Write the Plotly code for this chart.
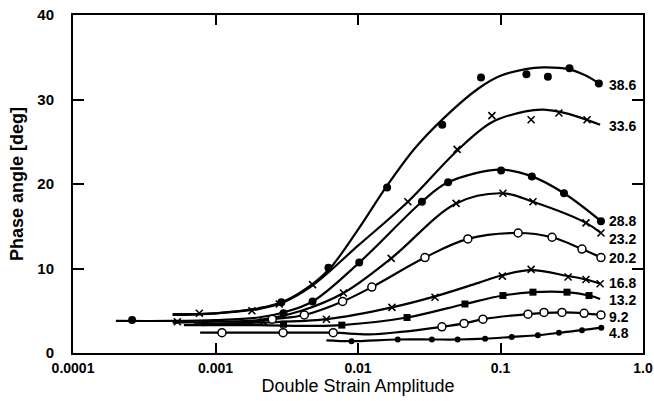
import plotly.graph_objects as go
import math

# ---- data ----
x_tick_vals = [0.0001, 0.001, 0.01, 0.1, 1.0]
x_tick_text = ["0.0001", "0.001", "0.01", "0.1", "1.0"]
y_tick_vals = [0, 10, 20, 30, 40]

labels = ["38.6", "33.6", "28.8", "23.2", "20.2", "16.8", "13.2", "9.2", "4.8"]
label_y = [31.7, 26.9, 15.6, 13.5, 11.2, 8.3, 6.3, 4.3, 2.4]

# 38.6 (filled circles)
c386_x = [0.0005, 0.001, 0.002, 0.003, 0.005, 0.0065, 0.01, 0.016, 0.025, 0.04, 0.07, 0.1, 0.15, 0.2, 0.3, 0.4, 0.5]
c386_y = [4.5, 4.7, 5.3, 6.1, 8.4, 10.2, 14.6, 19.8, 24.2, 27.8, 31.3, 32.8, 33.6, 33.8, 33.6, 32.8, 31.8]
m386_x = [0.0029, 0.0062, 0.016, 0.039, 0.073, 0.152, 0.215, 0.305, 0.49]
m386_y = [6.0, 10.1, 19.6, 27.0, 32.6, 33.0, 32.7, 33.7, 31.9]

# 33.6 (crosses)
c336_x = [0.0005, 0.001, 0.002, 0.003, 0.0048, 0.01, 0.0224, 0.05, 0.087, 0.15, 0.2, 0.3, 0.5]
c336_y = [4.6, 4.7, 5.2, 6.0, 8.0, 12.7, 17.9, 24.0, 27.3, 28.6, 28.8, 28.3, 27.0]
m336_x = [0.00077, 0.0018, 0.0028, 0.0048, 0.0224, 0.0496, 0.087, 0.164, 0.257, 0.405]
m336_y = [4.7, 5.0, 5.8, 8.1, 17.9, 24.1, 28.1, 27.6, 28.4, 27.6]

# 28.8 (filled circles)
c288_x = [0.0002, 0.0005, 0.001, 0.002, 0.003, 0.0048, 0.0102, 0.0281, 0.0429, 0.1, 0.166, 0.279, 0.507]
c288_y = [3.8, 3.8, 3.9, 4.2, 4.8, 6.1, 10.7, 17.9, 20.2, 21.7, 20.9, 18.9, 15.6]
m288_x = [0.00026, 0.003, 0.0048, 0.0102, 0.0281, 0.0429, 0.101, 0.166, 0.279, 0.507]
m288_y = [3.9, 4.7, 6.1, 10.7, 17.9, 20.2, 21.6, 20.9, 18.9, 15.6]

# 23.2 (crosses)
c232_x = [0.0005, 0.001, 0.002, 0.004, 0.0079, 0.0171, 0.0488, 0.104, 0.169, 0.398, 0.507]
c232_y = [3.6, 3.7, 3.9, 5.0, 7.1, 11.2, 17.7, 18.9, 17.9, 15.4, 14.2]
m232_x = [0.00054, 0.0079, 0.0171, 0.0488, 0.104, 0.169, 0.398, 0.507]
m232_y = [3.7, 7.1, 11.2, 17.7, 18.9, 17.9, 15.4, 14.2]

# 20.2 (open circles)
c202_x = [0.0008, 0.0015, 0.0025, 0.0042, 0.0078, 0.0125, 0.0295, 0.059, 0.133, 0.23, 0.373, 0.507]
c202_y = [3.3, 3.5, 4.0, 4.5, 6.1, 7.8, 11.3, 13.5, 14.2, 13.7, 12.3, 11.3]
m202_x = [0.0025, 0.0042, 0.0078, 0.0125, 0.0295, 0.059, 0.133, 0.23, 0.373, 0.507]
m202_y = [4.0, 4.5, 6.1, 7.8, 11.3, 13.5, 14.2, 13.7, 12.3, 11.3]

# 16.8 (crosses)
c168_x = [0.0007, 0.002, 0.006, 0.0173, 0.0347, 0.07, 0.103, 0.164, 0.3, 0.4, 0.5]
c168_y = [3.4, 3.6, 4.0, 5.4, 6.7, 8.3, 9.2, 9.8, 9.1, 8.7, 8.2]
m168_x = [0.00217, 0.006, 0.0173, 0.0347, 0.103, 0.164, 0.298, 0.398, 0.5]
m168_y = [3.7, 4.0, 5.4, 6.6, 9.1, 9.9, 9.0, 8.7, 8.2]

# 13.2 (filled squares)
c132_x = [0.0006, 0.002, 0.005, 0.0077, 0.0221, 0.0563, 0.104, 0.169, 0.293, 0.418, 0.5]
c132_y = [3.3, 3.3, 3.2, 3.3, 4.2, 5.8, 6.8, 7.2, 7.2, 6.8, 6.4]
m132_x = [0.003, 0.0077, 0.0221, 0.0563, 0.104, 0.169, 0.293, 0.418]
m132_y = [3.4, 3.3, 4.2, 5.8, 6.8, 7.2, 7.2, 6.8]

# 9.2 (open circles)
c92_x = [0.00078, 0.0011, 0.003, 0.0067, 0.012, 0.02, 0.0388, 0.0555, 0.0753, 0.156, 0.27, 0.386, 0.507]
c92_y = [2.4, 2.4, 2.4, 2.4, 2.2, 2.5, 3.1, 3.5, 4.0, 4.6, 4.8, 4.7, 4.5]
m92_x = [0.00111, 0.00298, 0.0067, 0.0388, 0.0555, 0.0753, 0.156, 0.202, 0.27, 0.386, 0.507]
m92_y = [2.4, 2.4, 2.4, 3.1, 3.5, 4.0, 4.6, 4.8, 4.8, 4.7, 4.5]

# 4.8 (small filled circles)
c48_x = [0.006, 0.009, 0.019, 0.033, 0.05, 0.078, 0.12, 0.183, 0.257, 0.373, 0.51]
c48_y = [1.5, 1.4, 1.6, 1.6, 1.6, 1.7, 1.9, 2.1, 2.4, 2.7, 3.0]
m48_x = [0.009, 0.019, 0.033, 0.05, 0.078, 0.12, 0.183, 0.257, 0.373, 0.51]
m48_y = [1.4, 1.6, 1.6, 1.6, 1.7, 1.9, 2.1, 2.4, 2.7, 3.0]

series = [
    (c386_x, c386_y, m386_x, m386_y, "circle", 8),
    (c336_x, c336_y, m336_x, m336_y, "x-thin", 7),
    (c288_x, c288_y, m288_x, m288_y, "circle", 8),
    (c232_x, c232_y, m232_x, m232_y, "x-thin", 7),
    (c202_x, c202_y, m202_x, m202_y, "circle-open", 8),
    (c168_x, c168_y, m168_x, m168_y, "x-thin", 7),
    (c132_x, c132_y, m132_x, m132_y, "square", 7),
    (c92_x, c92_y, m92_x, m92_y, "circle-open", 8),
    (c48_x, c48_y, m48_x, m48_y, "circle", 6),
]

FONT = "Liberation Sans, Arial, sans-serif"
fig = go.Figure()
for cx, cy, mx, my, sym, size in series:
    fig.add_trace(go.Scatter(x=cx, y=cy, mode="lines",
                             line=dict(color="black", width=2.2, shape="spline", smoothing=1.0),
                             hoverinfo="skip", showlegend=False))
for cx, cy, mx, my, sym, size in series:
    if sym == "circle-open":
        mk = dict(symbol="circle", size=size, color="white", line=dict(color="black", width=1.5))
    elif sym == "x-thin":
        mk = dict(symbol="x-thin", size=size, color="black", line=dict(color="black", width=1.6))
    else:
        mk = dict(symbol=sym, size=size, color="black", line=dict(color="black", width=0))
    fig.add_trace(go.Scatter(x=mx, y=my, mode="markers", marker=mk, showlegend=False))

for lab, ly in zip(labels, label_y):
    fig.add_annotation(x=math.log10(0.56), y=ly, text=lab, showarrow=False,
                       xanchor="left", yanchor="middle",
                       font=dict(family=FONT, size=14, color="black", weight="bold"))

fig.update_layout(
    width=654, height=401,
    margin=dict(l=73, r=11, t=15, b=48),
    paper_bgcolor="white", plot_bgcolor="white",
    font=dict(family=FONT, color="black"),
)
fig.update_xaxes(type="log", range=[-4, 0], tickvals=x_tick_vals, ticktext=x_tick_text,
                 ticks="inside", ticklen=10, tickwidth=1.5, tickcolor="black",
                 showline=True, linewidth=2, linecolor="black", mirror="ticks",
                 showgrid=False, zeroline=False, automargin=False,
                 tickfont=dict(family=FONT, size=14, color="black", weight="bold"),
                 ticklabelstandoff=1,
                 title=dict(text="Double Strain Amplitude", standoff=4,
                            font=dict(family=FONT, size=18, color="black")))
fig.update_yaxes(range=[0, 40], tickvals=y_tick_vals,
                 ticks="inside", ticklen=11, tickwidth=1.5, tickcolor="black",
                 showline=True, linewidth=2, linecolor="black", mirror="ticks",
                 showgrid=False, zeroline=False, automargin=False,
                 tickfont=dict(family=FONT, size=15, color="black", weight="bold"),
                 ticklabelstandoff=14,
                 title=dict(text="Phase angle [deg]", standoff=9,
                            font=dict(family=FONT, size=18, color="black", weight="bold")))

fig.write_html("out.html")
